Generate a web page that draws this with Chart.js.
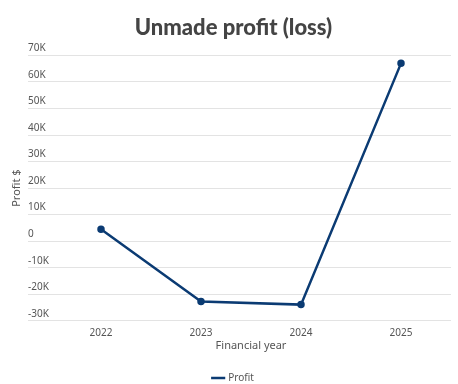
<!DOCTYPE html>
<html>
<head>
<meta charset="utf-8">
<script src="https://cdn.jsdelivr.net/npm/chart.js@4"></script>
<style>
  body { margin: 0; background: #fff; }
  #wrap { width: 458px; height: 384px; }
</style>
</head>
<body>
<div id="wrap"><canvas id="chart" width="458" height="384"></canvas></div>
<script>
const CHART = document.getElementById("chart");

// financial years and unmade profit (loss) in $
const years = ["2022", "2023", "2024", "2025"];
const profit = [4500, -22700, -23900, 67000];

const NAVY = "#0b3b73";
const TICK_FONT = { family: "'Noto Sans', sans-serif", size: 10 };

let lineChart = new Chart(CHART, {
  type: "line",
  data: {
    labels: years,
    datasets: [
      {
        label: "Profit",
        data: profit,
        borderColor: NAVY,
        backgroundColor: NAVY,
        borderWidth: 2.5,
        pointRadius: 2.5,
        pointHoverRadius: 3,
        tension: 0,
      },
    ],
  },
  options: {
    responsive: false,
    animation: false,
    layout: { padding: { left: 16, right: 7, top: 0, bottom: -9 } },
    plugins: {
      title: {
        display: true,
        text: "Unmade profit (loss)",
        color: "#444",
        font: { family: "Lato, sans-serif", size: 22, weight: "900" },
        padding: { top: 15, bottom: 14 },
      },
      legend: {
        position: "bottom",
        labels: {
          usePointStyle: true,
          pointStyle: "line",
          boxWidth: 12,
          padding: 0,
          color: "#555",
          font: { family: "'Noto Sans', sans-serif", size: 10 },
        },
      },
      tooltip: { enabled: false },
    },
    scales: {
      x: {
        offset: true,
        grid: { display: false, drawTicks: false },
        border: { display: false },
        ticks: { color: "#555", font: TICK_FONT, padding: 6 },
        title: {
          display: true,
          text: "Financial year",
          color: "#555",
          font: { family: "'Noto Sans', sans-serif", size: 11 },
          padding: { top: -6, bottom: 21 },
        },
      },
      y: {
        min: -30000,
        max: 70000,
        afterFit: (scale) => {
          scale.width = 35;
        },
        grid: { color: "#e3e3e3", tickLength: 23, lineWidth: 1 },
        border: { display: false },
        ticks: {
          stepSize: 10000,
          mirror: true,
          padding: -23,
          labelOffset: -7,
          color: "#555",
          font: TICK_FONT,
          callback: (v) => (v === 0 ? "0" : v / 1000 + "K"),
        },
        title: {
          display: true,
          text: "Profit $",
          color: "#555",
          font: { family: "'Noto Sans', sans-serif", size: 11 },
          padding: { top: -6, bottom: 0 },
        },
      },
    },
  },
});
</script>
</body>
</html>
